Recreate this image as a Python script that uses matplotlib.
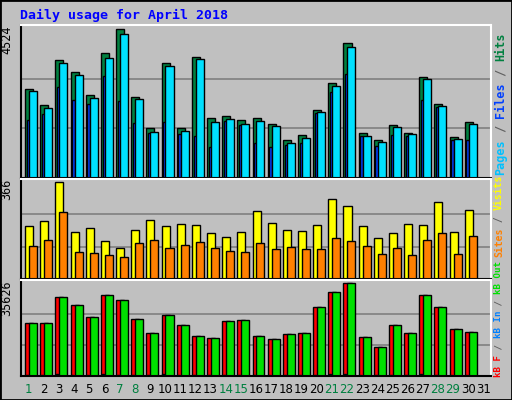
import numpy as np
import matplotlib
matplotlib.use("Agg")
import matplotlib.pyplot as plt

days = list(range(1, 32))
weekend = {1, 7, 8, 14, 15, 21, 22, 28, 29}

hits = [2714, 2222, 3579, 3217, 2523, 3820, 4524, 2463, 1528, 3488, 1528, 3679, 1830, 1890, 1769,
        1830, 1649, 1166, 1317, 2071, 2885, 4122, 1377, 1166, 1618, 1377, 3066, 2252, 1257, 1709, 0]
files = [2644, 2131, 3488, 3126, 2433, 3669, 4400, 2403, 1407, 3398, 1438, 3639, 1709, 1799, 1649,
         1739, 1588, 1076, 1226, 2011, 2795, 4001, 1287, 1106, 1558, 1347, 3006, 2192, 1196, 1649, 0]
pages = [1769, 1950, 2765, 2372, 2252, 3096, 2342, 1679, 1377, 1709, 1347, 1287, 955, 1739, 1618,
         1076, 955, 1015, 1076, 1980, 2614, 3157, 1287, 985, 1317, 1287, 2372, 2161, 1166, 1166, 0]
visits = [198, 218, 366, 178, 194, 142, 118, 186, 222, 198, 206, 202, 174, 158, 178,
          258, 210, 186, 182, 202, 302, 274, 198, 154, 174, 206, 202, 290, 178, 262, 0]
sites = [126, 146, 254, 102, 98, 91, 83, 134, 146, 118, 130, 138, 118, 106, 102,
         134, 114, 122, 114, 114, 154, 142, 126, 94, 118, 91, 146, 174, 94, 162, 0]
kbytes = [20358, 20358, 30146, 27014, 22707, 30929, 28971, 21924, 16443, 23490, 19575, 15269, 14486,
          21141, 21533, 15269, 14094, 16052, 16443, 26231, 32103, 35626, 14877, 10962, 19575, 16443,
          30929, 26231, 18009, 16835, 0]
kb_in = [300, 300, 600, 500, 300, 600, 500, 300, 300, 600, 300, 500, 300, 300, 300,
         300, 300, 200, 200, 300, 600, 600, 200, 200, 300, 300, 600, 300, 200, 300, 0]

BG = "#C0C0C0"
W, H = 512, 400
fig = plt.figure(figsize=(W / 100, H / 100), dpi=100, facecolor=BG)
fig.patches.append(plt.Rectangle((0, 0), 1, 1, transform=fig.transFigure,
                                 fill=False, edgecolor="black", lw=2))

def px_axes(x0, y0, x1, y1):
    return fig.add_axes([x0 / W, 1 - y1 / H, (x1 - x0) / W, (y1 - y0) / H])

x = np.array(days) - 1
mono = "DejaVu Sans Mono"

def side_label(y_bottom_px, parts, fs):
    step = 0.602 * fs * 100 / 72  # monospace advance in pixels
    y = y_bottom_px
    for txt, col in parts:
        fig.text(494 / W, 1 - y / H, txt, rotation=90, ha="left", va="bottom",
                 fontsize=fs, family=mono, fontweight="bold", color=col)
        y -= len(txt) * step

def panel(ax, ymax, series, maxlabel):
    ax.set_facecolor(BG)
    ax.set_xlim(0, 31)
    ax.set_ylim(0, ymax * 1.03)
    for g in (ymax / 3, 2 * ymax / 3):
        ax.axhline(g, color="#808080", lw=1.2, zorder=0)
    for left, width, vals, color in series:
        ax.bar(x + left, vals, width=width, align="edge", color=color,
               edgecolor="black", lw=1, zorder=2)
    ax.set_xticks([])
    ax.set_yticks([])
    for s in ax.spines.values():
        s.set_color("white")
        s.set_linewidth(1.5)
    ax.spines["left"].set_color("black")
    ax.spines["bottom"].set_color("black")
    ax.text(-0.017, 1.0, maxlabel, transform=ax.transAxes, rotation=90,
            ha="right", va="top", fontsize=8.5, family=mono)

ax1 = px_axes(21, 25, 491, 178)
panel(ax1, 4524,
      [(0.27, 0.53, hits, "#008040"), (0.38, 0.2, pages, "#0040FF"),
       (0.53, 0.53, files, "#00E0FF")],
      "4524")
side_label(175, [("Pages", "#00C0FF"), (" / ", "#606060"), ("Files", "#0040FF"),
                 (" / ", "#606060"), ("Hits", "#008040")], 8.5)

ax2 = px_axes(21, 179, 491, 279)
panel(ax2, 366,
      [(0.27, 0.53, visits, "#FFFF00"), (0.53, 0.53, sites, "#FF8000")],
      "366")
side_label(257, [("Sites", "#FF8000"), (" / ", "#606060"), ("Visits", "#FFFF00")], 7.0)

ax3 = px_axes(21, 280, 491, 376)
panel(ax3, 35626,
      [(0.27, 0.53, kbytes, "#FF0000"), (0.53, 0.53, kbytes, "#00E000"),
       (0.33, 0.12, kb_in, "#0080FF")],
      "35626")
side_label(377, [("kB F", "#FF0000"), (" / ", "#606060"), ("kB In", "#0080FF"),
                 (" / ", "#606060"), ("kB Out", "#00E000")], 6.6)

for d in days:
    ax3.text(d - 0.5, -0.14, str(d), transform=ax3.get_xaxis_transform(),
             ha="center", va="center", fontsize=8.5,
             color="#008040" if d in weekend else "black")

fig.text(20 / W, 1 - 15 / H, "Daily usage for April 2018", ha="left", va="center",
         fontsize=9.5, family=mono, fontweight="bold", color="#0000FF")

fig.savefig("out.png", dpi=100, facecolor=BG)
